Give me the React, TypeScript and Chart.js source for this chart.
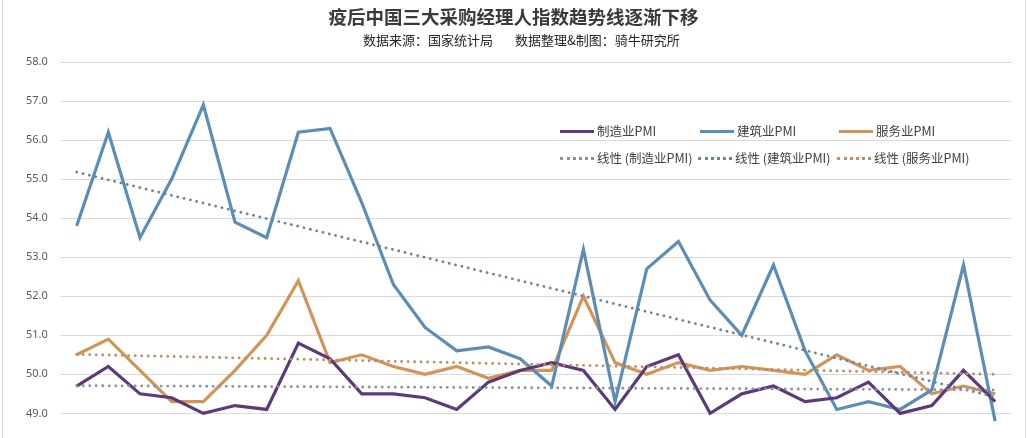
import { useEffect, useRef } from "react";
import { Chart, registerables } from "chart.js";

Chart.register(...registerables);

// months after the epidemic, one point each (axis labels are not shown in the picture)
const months = [
  "2023-08", "2023-09", "2023-10", "2023-11", "2023-12", "2024-01", "2024-02", "2024-03",
  "2024-04", "2024-05", "2024-06", "2024-07", "2024-08", "2024-09", "2024-10", "2024-11",
  "2024-12", "2025-01", "2025-02", "2025-03", "2025-04", "2025-05", "2025-06", "2025-07",
  "2025-08", "2025-09", "2025-10", "2025-11", "2025-12", "2026-01",
];

const manufacturing = [
  49.7, 50.2, 49.5, 49.4, 49.0, 49.2, 49.1, 50.8, 50.4, 49.5, 49.5, 49.4, 49.1, 49.8, 50.1,
  50.3, 50.1, 49.1, 50.2, 50.5, 49.0, 49.5, 49.7, 49.3, 49.4, 49.8, 49.0, 49.2, 50.1, 49.3,
];

const construction = [
  53.8, 56.2, 53.5, 55.0, 56.9, 53.9, 53.5, 56.2, 56.3, 54.4, 52.3, 51.2, 50.6, 50.7, 50.4,
  49.7, 53.2, 49.3, 52.7, 53.4, 51.9, 51.0, 52.8, 50.6, 49.1, 49.3, 49.1, 49.6, 52.8, 48.8,
];

const services = [
  50.5, 50.9, 50.1, 49.3, 49.3, 50.1, 51.0, 52.4, 50.3, 50.5, 50.2, 50.0, 50.2, 49.9, 50.1,
  50.1, 52.0, 50.3, 50.0, 50.3, 50.1, 50.2, 50.1, 50.0, 50.5, 50.1, 50.2, 49.5, 49.7, 49.5,
];

// trend line end points (first month, last month)
const trendManufacturing = [49.71, 49.6];
const trendConstruction = [55.18, 49.42];
const trendServices = [50.51, 50.0];

const yTicks = [48, 49, 50, 51, 52, 53, 54, 55, 56, 57, 58];

const PURPLE = "#5b3a7c";
const BLUE = "#5b8db5";
const ORANGE = "#d39458";
const PURPLE_T = "#8e8fa0";
const BLUE_T = "#6885a0";
const ORANGE_T = "#bb8f66";

const endPoints = (t: number[]) =>
  months.map((_, i) => (i === 0 ? t[0] : i === months.length - 1 ? t[1] : null));

const solid = (label: string, data: number[], color: string) => ({
  label,
  data,
  borderColor: color,
  backgroundColor: color,
  borderWidth: 3.2,
  pointRadius: 0,
  tension: 0,
  fill: false,
});

const dotted = (label: string, t: number[], color: string) => ({
  label,
  data: endPoints(t),
  borderColor: color,
  backgroundColor: color,
  borderWidth: 2.8,
  borderDash: [0.1, 6.4],
  borderCapStyle: "round",
  pointRadius: 0,
  spanGaps: true,
  fill: false,
});

const cjk = '"Noto Sans CJK SC", "Noto Sans", sans-serif';

const LegendItem = ({ x, y, color, dots, name }) => (
  <div style={{ position: "absolute", left: x, top: y, display: "flex", alignItems: "center" }}>
    <div
      style={{
        width: 34,
        height: 0,
        borderTop: dots ? `3px dotted ${color}` : `3px solid ${color}`,
        marginRight: 3,
      }}
    />
    <span style={{ fontFamily: cjk, fontSize: 12.5, color: "#404040", whiteSpace: "nowrap", lineHeight: "14px" }}>
      {name}
    </span>
  </div>
);

const App = () => {
  const chartRef = useRef(null);

  useEffect(() => {
    document.body.style.margin = "0";
    const ctx = chartRef.current.getContext("2d");

    const myChart = new Chart(ctx, {
      type: "line",
      data: {
        labels: months,
        datasets: [
          dotted("线性 (制造业PMI)", trendManufacturing, PURPLE_T),
          dotted("线性 (建筑业PMI)", trendConstruction, BLUE_T),
          dotted("线性 (服务业PMI)", trendServices, ORANGE_T),
          solid("制造业PMI", manufacturing, PURPLE),
          solid("建筑业PMI", construction, BLUE),
          solid("服务业PMI", services, ORANGE),
        ],
      },
      options: {
        responsive: false,
        animation: false,
        layout: { padding: { top: 62, left: 13, right: 16, bottom: 8 } },
        plugins: {
          legend: { display: false },
          title: { display: false },
          tooltip: { enabled: false },
        },
        scales: {
          x: {
            display: false,
            offset: true,
          },
          y: {
            min: 48,
            max: 58,
            border: { display: false },
            grid: { color: "#d9d9d9", lineWidth: 1, drawTicks: false },
            afterBuildTicks: (scale) => {
              scale.ticks = yTicks.map((v) => ({ value: v }));
            },
            ticks: {
              padding: 13,
              color: "#595959",
              font: { family: '"Noto Sans", sans-serif', size: 11 },
              callback: (v) => Number(v).toFixed(1),
            },
          },
        },
      },
    });

    return () => {
      myChart.destroy();
    };
  }, []);

  return (
    <div
      style={{
        position: "relative",
        width: 1027,
        height: 438,
        overflow: "hidden",
        background: "#fff",
      }}
    >
      <canvas ref={chartRef} width={1027} height={472} style={{ position: "absolute", left: 0, top: 0 }} />
      <div style={{ position: "absolute", left: 2, top: 0, width: 1, height: 438, background: "#d9d9d9" }} />
      <div style={{ position: "absolute", left: 1025, top: 0, width: 1, height: 438, background: "#d9d9d9" }} />
      <div
        style={{
          position: "absolute",
          left: 0,
          width: 1027,
          top: 4,
          textAlign: "center",
          fontFamily: cjk,
          fontWeight: 700,
          fontSize: 18.5,
          color: "#3a3a3a",
          lineHeight: "24px",
        }}
      >
        疫后中国三大采购经理人指数趋势线逐渐下移
      </div>
      <div
        style={{
          position: "absolute",
          left: 363,
          top: 32,
          fontFamily: cjk,
          fontSize: 13,
          color: "#262626",
          lineHeight: "16px",
          whiteSpace: "nowrap",
        }}
      >
        <span>数据来源：国家统计局</span>
        <span style={{ marginLeft: 22 }}>数据整理&amp;制图：骑牛研究所</span>
      </div>
      <LegendItem x={560} y={124} color={PURPLE} dots={false} name="制造业PMI" />
      <LegendItem x={700} y={124} color={BLUE} dots={false} name="建筑业PMI" />
      <LegendItem x={839} y={124} color={ORANGE} dots={false} name="服务业PMI" />
      <LegendItem x={560} y={151} color={PURPLE_T} dots={true} name="线性 (制造业PMI)" />
      <LegendItem x={698} y={151} color={BLUE_T} dots={true} name="线性 (建筑业PMI)" />
      <LegendItem x={837} y={151} color={ORANGE_T} dots={true} name="线性 (服务业PMI)" />
    </div>
  );
};

export default App;
